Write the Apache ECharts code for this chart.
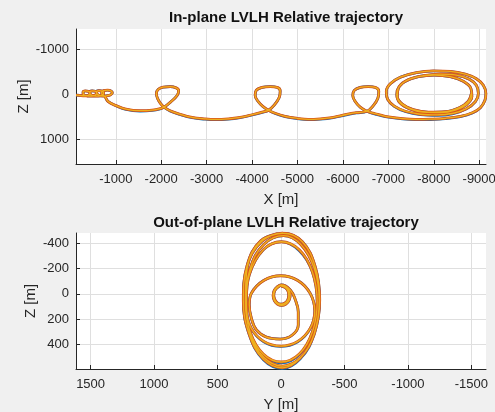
<!DOCTYPE html>
<html><head><meta charset="utf-8">
<script src="https://cdn.jsdelivr.net/npm/echarts@6/dist/echarts.min.js"></script>
<style>html,body{margin:0;padding:0;background:#f0f0f0;}#c{width:495px;height:412px;}</style>
</head><body><div id="c"></div>
<script>
// In-plane trajectory (X, Z) in metres
const topX = [-125,-200,-280,-350,-410,-435,-400,-330,-280,-285,-340,-420,-500,-560,-580,-545,-480,-430,-435,-490,-570,-650,-715,-735,-700,-630,-580,-585,-640,-720,-800,-880,-925,-900,-820,-730,-690,-700,-760,
-833,-1007,-1227,-1535,-1800,-1976,-2064,-2218,-2350,-2384,-2329,-2196,-2042,-1932,-1895,-1921,-1987,-2064,
-2196,-2417,-2681,-2967,-3188,-3474,-3738,-4003,-4223,-4362,-4488,-4598,-4620,-4554,-4399,-4223,-4091,-4069,-4135,-4245,-4362,
-4510,-4730,-4994,-5237,-5501,-5787,-6051,-6293,-6530,-6669,-6768,-6790,-6713,-6558,-6382,-6250,-6217,-6272,-6382,-6530,
-6713,-6933,-7264,-7594,-7924,-8255,-8585,-8850,-9026,-9125,-9147,-9092,-8938,-8696,-8365,-7990,-7616,-7264,-7043,-6955,-6988,-7131,-7374,-7704,-8079,-8431,-8718,-8916,-8982,-8938,-8784,-8497,-8145,-7770,-7440,-7242,-7186,-7252,-7462,-7770,-8145,-8475,-8718,-8839,-8817,-8651,-8365,-8013,-7660,-7374,-7220,-7198,-7308,-7550,-7880,-8255,-8563,-8762,-8828];
const topZ = [15,20,28,30,10,-30,-70,-78,-50,-5,25,35,30,5,-35,-72,-80,-55,-10,25,35,30,5,-35,-75,-85,-60,-15,22,35,30,10,-30,-75,-95,-85,-50,0,45,
157,247,326,360,348,315,281,157,22,-90,-146,-173,-162,-112,-22,90,202,281,
360,438,506,539,551,539,506,449,393,348,236,67,-79,-157,-175,-157,-90,22,157,270,348,
416,483,528,551,539,506,449,404,371,247,90,-67,-157,-175,-157,-90,22,157,281,371,
427,483,528,551,546,528,483,404,292,135,-22,-202,-348,-449,-510,-521,-483,-382,-236,-67,112,258,371,438,454,416,315,157,-22,-202,-337,-427,-449,-416,-326,-180,0,180,315,393,404,348,225,45,-135,-292,-393,-427,-393,-292,-135,45,213,337,393,382,292,146,-22];
const topZBlue = [15,20,28,30,10,-30,-70,-78,-50,-5,25,35,30,5,-35,-72,-80,-55,-10,25,35,30,5,-35,-75,-85,-60,-15,22,35,30,10,-30,-75,-95,-85,-50,0,45,
158,250,334,368,355,320,283,157,22,-90,-146,-173,-162,-112,-22,90,202,283,
366,445,515,550,561,550,515,457,399,350,236,67,-79,-157,-175,-157,-90,22,158,273,350,
424,491,538,561,550,515,457,411,374,247,90,-67,-157,-175,-157,-90,22,158,283,374,
436,492,538,561,557,538,491,411,296,135,-22,-202,-348,-449,-510,-521,-483,-382,-236,-67,115,264,380,448,464,424,320,158,-22,-202,-337,-427,-449,-416,-326,-180,0,182,318,397,408,351,226,45,-135,-292,-393,-427,-393,-292,-135,45,215,340,396,385,294,146,-22];

// Out-of-plane trajectory (Y, Z) in metres
const sideY = [-2,-32,-54,-61,-54,-32,-2,27,49,57,49,27,
-5,-39,-63,-72,-63,-39,-5,29,53,62,53,29,
-2,-73,-113,-136,-136,-89,6,116,194,234,250,
234,136,2,-132,-230,-266,-230,-132,2,136,234,270,
272,250,140,
-2,-144,-247,-285,-247,-144,-2,140,243,281,
242,136,-20,-156,-262,-301,-262,-156,-10,136,242,281,
265,155,-18,-168,-270,-305,-262,-152,-10,139,250,297,268,158,-15];
const sideZ = [-61,-51,-26,10,46,72,81,72,46,10,-26,-51,
-67,-56,-28,12,52,80,91,80,52,12,-28,-56,
-71,-32,47,142,245,324,356,340,284,190,85,
-4,-106,-143,-106,-4,134,272,374,411,374,272,134,
40,-150,-347,
-411,-347,-174,63,300,474,537,474,300,63,
-202,-390,-459,-390,-202,55,312,500,569,500,312,55,
-213,-411,-478,-411,-213,47,316,506,583,514,320,55,-220,-420,-480];
const sideZBlue = [-61,-51,-26,10,46,72,81,72,46,10,-26,-51,
-67,-56,-28,12,52,80,91,80,52,12,-28,-56,
-71,-32,47,142,245,324,356,340,284,190,85,
-4,-106,-143,-106,-4,134,274,378,415,378,274,134,
40,-150,-347,
-411,-340,-174,63,303,480,544,480,303,63,
-202,-390,-459,-390,-202,55,315,506,575,506,315,55,
-213,-411,-478,-411,-213,47,319,512,588,520,323,55,-220,-420,-480];

const topXTicks = [-1000,-2000,-3000,-4000,-5000,-6000,-7000,-8000,-9000];
const topZTicks = [-1000,0,1000];
const sideYTicks = [1500,1000,500,0,-500,-1000,-1500];
const sideZTicks = [-400,-200,0,200,400];

const FONT = '"Liberation Sans", Arial, Helvetica, sans-serif';
const TXT = '#262626';

function axis(gridIndex, min, max, ticks, name, nameGap, margin) {
  return {
    gridIndex, type: 'value', inverse: true, min, max,
    name, nameLocation: 'middle', nameGap, nameMoveOverlap: false,
    nameTextStyle: {fontFamily: FONT, fontSize: 15, color: TXT},
    axisLine: {show: true, onZero: false, lineStyle: {color: TXT, width: 1}},
    axisTick: {show: true, inside: true, length: 4, customValues: ticks, lineStyle: {color: TXT, width: 1}},
    axisLabel: {customValues: ticks, margin, fontFamily: FONT, fontSize: 13, color: TXT,
      formatter: v => String(v), hideOverlap: false},
    splitLine: {show: true, lineStyle: {color: '#dfdfdf', width: 1}}
  };
}
function pairs(a, b) { return a.map((v, i) => [v, b[i]]); }
function ser(xi, data, color, width) {
  return {type: 'line', xAxisIndex: xi, yAxisIndex: xi, data, showSymbol: false, symbol: 'none',
    smooth: 0.4, silent: true, lineStyle: {color, width}, z: 2};
}

const chart = echarts.init(document.getElementById('c'), null, {renderer: 'canvas'});
chart.setOption({
  animation: false,
  backgroundColor: '#f0f0f0',
  title: [
    {text: 'In-plane LVLH Relative trajectory', left: 281, top: 5, textAlign: 'center',
      textStyle: {fontFamily: FONT, fontSize: 15, fontWeight: 'bold', color: '#111'}},
    {text: 'Out-of-plane LVLH Relative trajectory', left: 281, top: 210, textAlign: 'center',
      textStyle: {fontFamily: FONT, fontSize: 15, fontWeight: 'bold', color: '#111'}}
  ],
  grid: [
    {left: 76, right: 9, top: 29, height: 135, show: true, backgroundColor: '#ffffff', borderWidth: 0,
      containLabel: false, outerBoundsMode: 'none'},
    {left: 76, right: 9, top: 233, height: 136, show: true, backgroundColor: '#ffffff', borderWidth: 0,
      containLabel: false, outerBoundsMode: 'none'}
  ],
  xAxis: [
    axis(0, -9150, -125, topXTicks, 'X [m]', 28, 9),
    axis(1, -1615, 1615, sideYTicks, 'Y [m]', 28, 9)
  ],
  yAxis: [
    axis(0, -1450, 1540, topZTicks, 'Z [m]', 45, 7),
    axis(1, -480, 592, sideZTicks, 'Z [m]', 38, 7)
  ],
  series: [
    ser(0, pairs(topX, topZBlue), '#0072BD', 2.6),
    ser(0, pairs(topX, topZ), '#D95319', 2.8),
    ser(0, pairs(topX, topZ), '#EDB120', 1.3),
    ser(1, pairs(sideY, sideZBlue), '#0072BD', 2.6),
    ser(1, pairs(sideY, sideZ), '#D95319', 2.8),
    ser(1, pairs(sideY, sideZ), '#EDB120', 1.3)
  ]
});
</script></body></html>
